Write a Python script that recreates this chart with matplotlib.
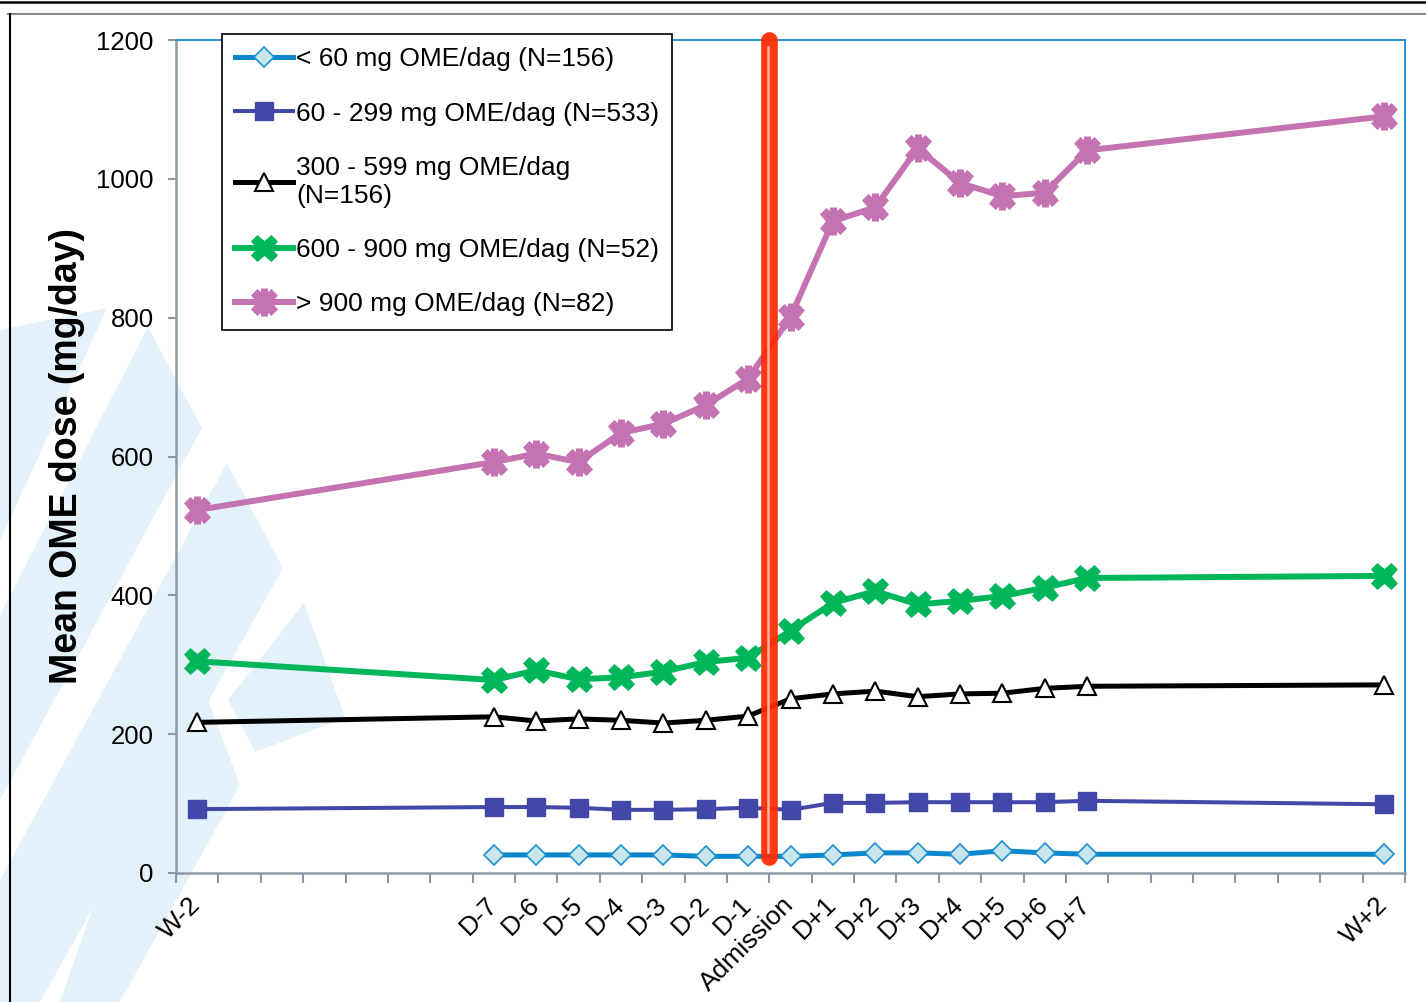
import numpy as np
import matplotlib
matplotlib.use('Agg')
import matplotlib.pyplot as plt
from matplotlib.patches import Polygon
from matplotlib.legend_handler import HandlerTuple

plt.rcParams['font.family'] = ['Liberation Sans', 'DejaVu Sans']

# Category axis: 29 slots, only the time points carry a label
categories = ['W-2', '', '', '', '', '', '',
              'D-7', 'D-6', 'D-5', 'D-4', 'D-3', 'D-2', 'D-1',
              'Admission',
              'D+1', 'D+2', 'D+3', 'D+4', 'D+5', 'D+6', 'D+7',
              '', '', '', '', '', '', 'W+2']
time_points = [c for c in categories if c]
x_pos = np.array([categories.index(c) for c in time_points])

# Mean OME dose (mg/day) per group, one value per time point
dose_lt60 = [np.nan, 26, 26, 26, 26, 26, 24, 24, 24, 26, 29, 29, 27, 32, 29, 27, 27]
dose_60_299 = [92, 95, 95, 94, 91, 91, 92, 94, 91, 101, 101, 102, 102, 102, 102, 104, 99]
dose_300_599 = [217, 225, 219, 222, 220, 216, 220, 226, 251, 258, 262, 254, 258, 259, 266, 269, 271]
dose_600_900 = [305, 278, 292, 279, 282, 290, 304, 310, 349, 389, 406, 387, 392, 399, 411, 425, 428]
dose_gt900 = [523, 592, 604, 592, 634, 647, 674, 712, 801, 939, 959, 1044, 994, 975, 980, 1041, 1090]

labels = ['< 60 mg OME/dag (N=156)',
          '60 - 299 mg OME/dag (N=533)',
          '300 - 599 mg OME/dag\n(N=156)',
          '600 - 900 mg OME/dag (N=52)',
          '> 900 mg OME/dag (N=82)']

W, H = 1426, 1002
fig = plt.figure(figsize=(W / 100, H / 100), dpi=100, facecolor='white')

# background layer in pixel coordinates: faint logo shapes and page frame
bg = fig.add_axes([0, 0, 1, 1], zorder=-1)
bg.set_xlim(0, W)
bg.set_ylim(H, 0)
bg.axis('off')
logo = '#e3f1fa'
shapes = [
    [(0, 330), (107, 308), (0, 540)],
    [(0, 615), (148, 327), (202, 428), (0, 800)],
    [(0, 880), (227, 463), (283, 568), (40, 1002), (0, 1002)],
    [(304, 603), (345, 718), (255, 752), (228, 700)],
    [(185, 640), (240, 785), (120, 1002), (60, 1002)],
]
for pts in shapes:
    bg.add_patch(Polygon(pts, closed=True, facecolor=logo, edgecolor='none'))
bg.plot([0, W], [2, 2], color='black', lw=1.8)
bg.plot([8, W], [14, 14], color='#8a8a8a', lw=1.5)
bg.plot([10, 10], [14, H], color='black', lw=1.5)

ax = fig.add_axes([176 / W, 1 - 873 / H, 1229 / W, 833 / H])
ax.set_facecolor('none')

l1, = ax.plot(x_pos, dose_lt60, color='#0a86cc', lw=3.6, marker='D', ms=10,
              mfc='#c8e6ec', mec='#1e90d0', mew=1.2, zorder=3)
l2, = ax.plot(x_pos, dose_60_299, color='#4248a8', lw=2.9, marker='s', ms=13.5,
              mfc='#4248a8', mec='#4248a8', zorder=3)
l3, = ax.plot(x_pos, dose_300_599, color='black', lw=3.6, marker='^', ms=13,
              mfc='white', mec='black', mew=1.5, zorder=3)
l4, = ax.plot(x_pos, dose_600_900, color='#00b65a', lw=4.3, marker='X', ms=19,
              mfc='#00b65a', mec='#00b65a', mew=0.5, zorder=3)
l5, = ax.plot(x_pos, dose_gt900, color='#c472b1', lw=4.3, marker='X', ms=19,
              mfc='#c472b1', mec='#c472b1', mew=0.5, zorder=3)
l5s, = ax.plot(x_pos, dose_gt900, ls='none', marker='|', ms=20, mew=5,
               mec='#c472b1', zorder=3)

# admission marker between D-1 and Admission
x_adm = categories.index('Admission') - 0.5
ax.plot([x_adm, x_adm], [23, 1200], color='#ff2a00', lw=12, alpha=0.93,
        solid_capstyle='round', zorder=5, clip_on=False)
ax.plot([x_adm - 0.03, x_adm - 0.03], [30, 1190], color='#ffb0a4', lw=1.8,
        zorder=6, clip_on=False)

ax.set_xlim(-0.5, len(categories) - 0.5)
ax.set_ylim(0, 1200)
ax.set_yticks(np.arange(0, 1201, 200))
ax.set_xticks(x_pos)
ax.set_xticklabels(time_points, rotation=45, ha='right', va='center',
                   rotation_mode='anchor')
ax.set_xticks(np.arange(-0.5, len(categories)), minor=True)
ax.tick_params(axis='x', which='major', length=0, pad=20, labelsize=19)
ax.tick_params(axis='x', which='minor', length=7, width=1.5,
               color='#8d9aa5', direction='out')
ax.tick_params(axis='y', length=6, width=1.5, color='#8d9aa5',
               direction='out', pad=10, labelsize=18.5)

for side in ['left', 'bottom']:
    ax.spines[side].set_color('#8d9aa5')
    ax.spines[side].set_linewidth(1.8)
for side in ['top', 'right']:
    ax.spines[side].set_color('#1a8ad4')
    ax.spines[side].set_linewidth(1.3)

ax.set_ylabel('Mean OME dose (mg/day)', fontsize=27, fontweight='bold',
              labelpad=8)

leg = ax.legend([l1, l2, l3, l4, (l5, l5s)], labels,
                handler_map={tuple: HandlerTuple(ndivide=1)},
                loc='upper left', bbox_to_anchor=(222 / W, 1 - 34 / H),
                bbox_transform=fig.transFigure, borderaxespad=0,
                borderpad=0.5, labelspacing=1.15, handlelength=2.2,
                handletextpad=0.1, fontsize=19, fancybox=False,
                framealpha=1, edgecolor='black')
leg.get_frame().set_linewidth(1.2)
leg.set_zorder(4)

fig.savefig('out.png', dpi=100, facecolor='white')
